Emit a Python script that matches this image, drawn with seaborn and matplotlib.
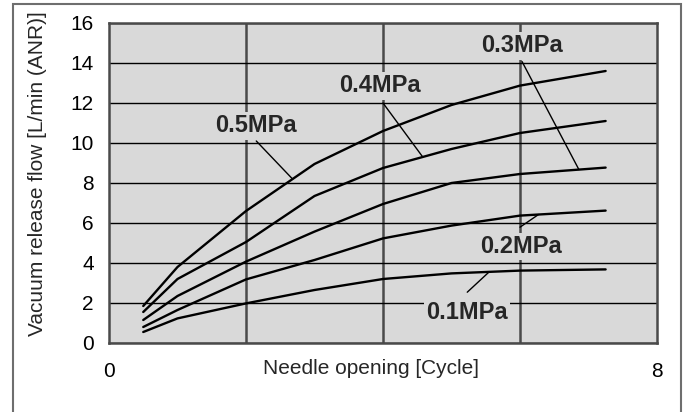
import numpy as np
import pandas as pd
import matplotlib.pyplot as plt
import seaborn as sns
from matplotlib.patches import Rectangle
from matplotlib.ticker import FixedLocator

# Data
needle = [0.5, 1, 2, 3, 4, 5, 6, 7.25]
flow_05 = [1.85, 3.8, 6.6, 8.95, 10.6, 11.9, 12.87, 13.6]
flow_04 = [1.55, 3.2, 5.05, 7.35, 8.75, 9.7, 10.5, 11.1]
flow_03 = [1.15, 2.35, 4.07, 5.57, 6.95, 8.0, 8.45, 8.77]
flow_02 = [0.8, 1.65, 3.18, 4.15, 5.23, 5.87, 6.37, 6.62]
flow_01 = [0.55, 1.23, 1.98, 2.65, 3.2, 3.48, 3.62, 3.68]
pressures = ['0.5MPa', '0.4MPa', '0.3MPa', '0.2MPa', '0.1MPa']
series = [flow_05, flow_04, flow_03, flow_02, flow_01]

# label centre, leader start, x where the leader meets the curve
label_xy = [(2.15, 10.85), (3.96, 12.85), (6.03, 14.85), (6.01, 4.82), (5.23, 1.52)]
leader_start = [(2.15, 10.1), (4.0, 12.0), (6.03, 14.07), (6.0, 5.79), (5.23, 2.54)]
leader_end_x = [2.68, 4.58, 6.86, 6.27, 5.55]

df = pd.concat([pd.DataFrame({'Needle': needle, 'Flow': s, 'Pressure': p})
                for p, s in zip(pressures, series)], ignore_index=True)

sns.set_style('white')
plt.rcParams['font.family'] = ['Liberation Sans', 'DejaVu Sans']

bg = '#d9d9d9'
fig = plt.figure(figsize=(6.86, 4.12), dpi=100)
ax = fig.add_axes([109 / 686, 1 - 343 / 412, 548 / 686, 320 / 412])
ax.set_facecolor(bg)

sns.lineplot(data=df, x='Needle', y='Flow', hue='Pressure', palette=['black'] * 5,
             linewidth=1.7, legend=False, ax=ax, zorder=4)

ax.set_xlim(0, 8)
ax.set_ylim(0, 16)
ax.set_xticks([0, 8])
ax.xaxis.set_minor_locator(FixedLocator([2, 4, 6]))
ax.set_yticks(range(0, 17, 2))
ax.grid(axis='y', which='major', color='black', linewidth=1)
ax.grid(axis='x', which='minor', color='#4a4a4a', linewidth=1.8)
ax.grid(axis='x', which='major', visible=False)
ax.set_axisbelow(True)
ax.tick_params(which='both', length=0, labelsize=15, colors='black')
ax.tick_params(axis='x', pad=14)
ax.tick_params(axis='y', pad=11)
for sp in ax.spines.values():
    sp.set_color('#4a4a4a')
    sp.set_linewidth(1.8)

ax.set_xlabel('Needle opening [Cycle]', fontsize=15)
ax.set_ylabel('Vacuum release flow [L/min (ANR)]', fontsize=15)
ax.xaxis.set_label_coords(0.478, -0.081)
ax.xaxis.label.set_va('center')
ax.yaxis.set_label_coords(-0.131, 0.53)
ax.yaxis.label.set_va('center')

for p, s, xy, st, ex in zip(pressures, series, label_xy, leader_start, leader_end_x):
    ey = np.interp(ex, needle, s)
    ax.plot([st[0], ex], [st[1], ey], color='black', linewidth=1, zorder=3)
    ax.text(xy[0], xy[1], p, ha='center', va='center', fontsize=17, fontweight='bold',
            zorder=3.5, bbox=dict(facecolor=bg, edgecolor='none', pad=1.5))

fig.patches.append(Rectangle((13 / 686, -0.05), 668 / 686, 1.05 - 4 / 412, fill=False,
                             edgecolor='#6e6e6e', linewidth=1.5, transform=fig.transFigure))

fig.savefig('out.png', dpi=100)
